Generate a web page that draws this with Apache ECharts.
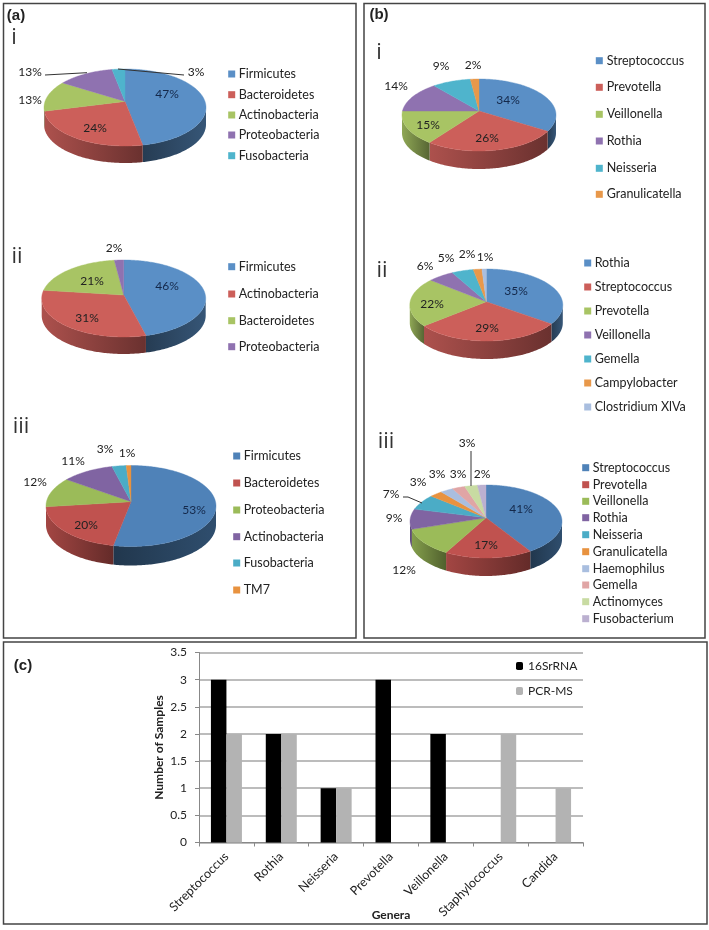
<!DOCTYPE html>
<html><head><meta charset="utf-8">
<style>html,body{margin:0;padding:0;background:#fff}#c{width:709px;height:930px}</style>
<script src="https://cdn.jsdelivr.net/npm/echarts@6/dist/echarts.min.js"></script>
</head><body><div id="c"></div>
<script>
// ---- data ----
const a1Names = ['Firmicutes','Bacteroidetes','Actinobacteria','Proteobacteria','Fusobacteria'];
const a1Values = [47,24,13,13,3];
const a2Names = ['Firmicutes','Actinobacteria','Bacteroidetes','Proteobacteria'];
const a2Values = [46,31,21,2];
const a3Names = ['Firmicutes','Bacteroidetes','Proteobacteria','Actinobacteria','Fusobacteria','TM7'];
const a3Values = [53,20,12,11,3,1];
const b1Names = ['Streptococcus','Prevotella','Veillonella','Rothia','Neisseria','Granulicatella'];
const b1Values = [34,26,15,14,9,2];
const b2Names = ['Rothia','Streptococcus','Prevotella','Veillonella','Gemella','Campylobacter','Clostridium XlVa'];
const b2Values = [35,29,22,6,5,2,1];
const b3Names = ['Streptococcus','Prevotella','Veillonella','Rothia','Neisseria','Granulicatella','Haemophilus','Gemella','Actinomyces','Fusobacterium'];
const b3Values = [41,17,12,9,7,3,3,3,3,2];
const genera = ['Streptococcus','Rothia','Neisseria','Prevotella','Veillonella','Staphylococcus','Candida'];
const rna16S = [3,2,1,3,2,0,0];
const pcrMS = [2,2,1,0,0,2,1];
const yTicks = {min:0,max:3.5,interval:0.5};

// ---- layout / style ----
const palette = ['#5A8FC6','#CC5F5A','#A8C464','#8F72B0','#4FB4CC','#E8984A','#A9BEDF','#E0A5A5','#C8DBA2','#BBB0D0'];
const palette3 = ['#4F82B8','#C0524F','#9BBB59','#8064A2','#4BACC6','#E8923F','#A9BEDF','#E0A5A5','#C8DBA2','#BBB0D0'];
const pies = [
 {names:a1Names,values:a1Values,colors:palette,cx:125,cy:107.5,rx:81,ry:38.5,k:-0.157,depth:17,
  labels:[[167,94],[95,128],[30,100],[30,72],[196,72]],
  leaders:[[[45,75],[87,72.7]],[[184,75],[118,69]]],
  sx:231.7,tx:238.7,ys:[74,94.7,115,135,155.7],tag:'i',tagPos:[14,38]},
 {names:a2Names,values:a2Values,colors:palette,cx:123.7,cy:298.5,rx:82,ry:38.5,k:-0.09,depth:17,
  labels:[[167,286],[87,318],[92,281],[114,248]],leaders:[],
  sx:231.7,tx:238.7,ys:[266.7,294,320.7,346.7],tag:'ii',tagPos:[17,257]},
 {names:a3Names,values:a3Values,colors:palette3,cx:131,cy:506,rx:85,ry:40.5,k:-0.106,depth:19,
  labels:[[194,510],[86,525],[35,482],[73,461],[105,449],[127,453]],leaders:[],
  sx:236.7,tx:243.7,ys:[456,483,510,536.7,563,590],tag:'iii',tagPos:[21,427]},
 {names:b1Names,values:b1Values,colors:palette,cx:479,cy:115,rx:77,ry:36,k:-0.11,depth:18,
  labels:[[508,100],[487,138],[428,125],[396,86],[441,66],[473,65]],leaders:[],
  sx:599.3,tx:606.7,ys:[60.7,87.3,114.3,141,168.3,194.3],tag:'i',tagPos:[379,53]},
 {names:b2Names,values:b2Values,colors:palette,cx:486.3,cy:305,rx:76.5,ry:36,k:-0.09,depth:18,
  labels:[[516,291],[487,328],[432,304],[425,266],[446,258],[467,254],[485,257]],leaders:[],
  sx:587.7,tx:594.7,ys:[263,287,311,335,359,383,407],tag:'ii',tagPos:[382,271]},
 {names:b3Names,values:b3Values,colors:palette3,cx:486,cy:521.5,rx:76,ry:36.5,k:-0.1,depth:18,
  labels:[[521,509],[486,545],[404,570],[394,518],[391,494],[418,482],[437,474],[458,474],[467,443],[482,474]],
  leaders:[[[403,497],[408,497],[422,503]],[[471,451],[471,486]]],
  sx:585.7,tx:592.7,ys:[467.7,484.7,501.3,517.7,534.7,551.7,568.7,585,601.7,618.7],tag:'iii',tagPos:[386,441.7]}
];
const FONT = 'Lato, "Open Sans", sans-serif';
const BOLD = '"Liberation Sans", Arial, sans-serif';
const INK = '#222';

function project(p, deg){
  const t = deg*Math.PI/180, X = Math.sin(t), Y = -Math.cos(t), d = 1+p.k*Y;
  const yp = (Y+p.k)/d, xp = X*Math.sqrt(1-p.k*p.k)/d;
  return {x:p.cx+p.rx*xp, y:p.cy+p.ry*yp, front:yp>=-0.005};
}
function shade(hex,f){
  const n = parseInt(hex.slice(1),16);
  return 'rgb('+[(n>>16)&255,(n>>8)&255,n&255].map(v=>Math.round(v*f)).join(',')+')';
}
function renderSlice(p){
  const total = p.values.reduce((s,v)=>s+v,0);
  return function(params, api){
    const i = params.dataIndex;
    let start = 0;
    for(let j=0;j<i;j++) start += p.values[j];
    const a0 = start/total*360, a1 = (start+api.value(0))/total*360;
    const top = [[p.cx,p.cy+p.ry*p.k]], rimF = [];
    const steps = Math.max(2,Math.ceil((a1-a0)));
    for(let s=0;s<=steps;s++){
      const q = project(p,a0+(a1-a0)*s/steps);
      top.push([q.x,q.y]);
      if(q.front) rimF.push([q.x,q.y]);
    }
    const c = p.colors[i], kids = [];
    if(rimF.length>1){
      const side = rimF.concat(rimF.slice().reverse().map(o=>[o[0],o[1]+p.depth]));
      const xs = rimF.map(o=>o[0]), x0 = Math.min.apply(null,xs), x1 = Math.max.apply(null,xs);
      const stops = i===0 ? [{offset:0,color:shade(c,0.42)},{offset:1,color:shade(c,0.6)}]
                          : [{offset:0,color:shade(c,0.85)},{offset:1,color:shade(c,0.52)}];
      kids.push({type:'polygon',shape:{points:side},
        style:{fill:new echarts.graphic.LinearGradient(x0,0,x1,0,stops,true)}});
    }
    kids.push({type:'polygon',shape:{points:top},style:{fill:c,stroke:c,lineWidth:0.4}});
    return {type:'group',children:kids};
  };
}

// ---- static annotations ----
const graphics = [];
function frame(x,y,w,h){graphics.push({type:'rect',silent:true,shape:{x,y,width:w,height:h},style:{fill:null,stroke:'#444',lineWidth:1.5},z:1});}
function text(t,x,y,size,opt){graphics.push({type:'text',silent:true,x,y,z:10,style:Object.assign({text:t,font:size+'px '+FONT,fill:INK,align:'center',verticalAlign:'middle'},opt||{})});}
frame(3.5,3.5,352.5,634.5); frame(364,3.5,341,634.5); frame(3.5,642,703.5,282);
text('(a)',16,16,15,{font:'bold 15px '+BOLD});
text('(b)',379,15,15,{font:'bold 15px '+BOLD});
text('(c)',23,666,15,{font:'bold 15px '+BOLD});
pies.forEach(p=>{
  text(p.tag,p.tagPos[0],p.tagPos[1],22,{font:'22px "Open Sans", sans-serif',fill:'#333'});
  p.values.forEach((v,i)=>text(v+'%',p.labels[i][0],p.labels[i][1],12,i===0?{fill:'#14284a'}:{}));
  p.leaders.forEach(l=>graphics.push({type:'polyline',silent:true,z:9,shape:{points:l},style:{stroke:'#333',lineWidth:1,fill:null}}));
  p.names.forEach((n,i)=>{
    graphics.push({type:'rect',silent:true,z:10,shape:{x:p.sx-3.5,y:p.ys[i]-3.5,width:7,height:7},style:{fill:p.colors[i]}});
    text(n,p.tx,p.ys[i],12.5,{align:'left'});
  });
});

// ---- series ----
const pieSeries = pies.map((p,i)=>({
  type:'custom',name:'pie'+i,coordinateSystem:'none',silent:true,animation:false,
  data:p.values.map(v=>[v]),renderItem:renderSlice(p)
}));

const chart = echarts.init(document.getElementById('c'),null,{renderer:'canvas'});
chart.setOption({
  animation:false,backgroundColor:'#fff',
  textStyle:{fontFamily:FONT},
  graphic:graphics,
  grid:{left:199,top:652.5,width:384,height:190,containLabel:false,outerBoundsMode:'none'},
  legend:{show:true,orient:'vertical',left:516,top:660,padding:0,itemWidth:7,itemHeight:8,itemGap:13,
    data:['16SrRNA','PCR-MS'],textStyle:{fontSize:12,color:INK,fontFamily:FONT},selectedMode:false},
  xAxis:{type:'category',data:genera,name:'Genera',nameLocation:'middle',nameGap:67,nameMoveOverlap:false,
    nameTextStyle:{fontWeight:'bold',fontSize:12,color:INK,fontFamily:FONT},
    axisLine:{lineStyle:{color:'#888',width:1}},axisTick:{show:true,length:4,alignWithLabel:false,lineStyle:{color:'#888'}},
    axisLabel:{rotate:45,fontSize:12.5,color:INK,margin:12,interval:0,fontFamily:FONT}},
  yAxis:{type:'value',min:yTicks.min,max:yTicks.max,interval:yTicks.interval,name:'Number of Samples',nameLocation:'middle',nameGap:34,nameMoveOverlap:false,
    nameTextStyle:{fontWeight:'bold',fontSize:12,color:INK,fontFamily:FONT},
    axisLine:{show:true,lineStyle:{color:'#888',width:1}},axisTick:{show:true,length:4,lineStyle:{color:'#888'}},
    axisLabel:{fontSize:12,color:INK,margin:12,fontFamily:FONT},
    splitLine:{lineStyle:{color:'#a6a6a6',width:1.5}}},
  series:pieSeries.concat([
    {type:'bar',name:'16SrRNA',data:rna16S,barWidth:15.5,barGap:'0%',itemStyle:{color:'#000'},z:3},
    {type:'bar',name:'PCR-MS',data:pcrMS,barWidth:15.5,barGap:'0%',itemStyle:{color:'#b3b3b3'},z:3}
  ])
});
</script></body></html>
